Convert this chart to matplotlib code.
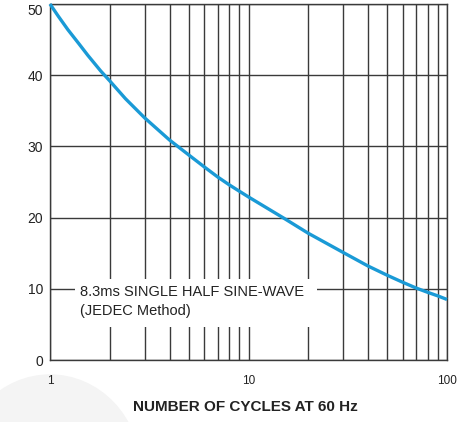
import matplotlib.pyplot as plt
from matplotlib.patches import Ellipse, Rectangle

plt.rcParams['font.family'] = ['Liberation Sans', 'DejaVu Sans']

# Surge current vs number of cycles
cycles = [1, 1.1, 1.23, 1.4, 1.55, 1.8, 2, 2.4, 3, 4, 5, 6, 7, 8, 9, 10,
          15, 20, 30, 40, 50, 60, 70, 80, 90, 100]
current = [50, 48.3, 46.4, 44.4, 42.8, 40.6, 39.2, 36.7, 34.0, 30.9, 28.8,
           27.1, 25.7, 24.6, 23.7, 22.9, 19.95, 17.8, 15.1, 13.2, 11.9,
           10.9, 10.1, 9.5, 9.0, 8.5]

y_ticks = [0, 10, 20, 30, 40, 50]
x_ticks = [1, 10, 100]
x_tick_labels = ['1', '10', '100']

fig = plt.figure(figsize=(4.69, 4.22), dpi=100)

# faint grey watermark blob in the lower-left corner
fig.patches.append(Ellipse((50 / 469, 1 - 470 / 422), 180 / 469, 190 / 422,
                           transform=fig.transFigure, color='#f4f4f4',
                           zorder=-1))

ax = fig.add_axes([50 / 469, 62 / 422, 397 / 469, 356 / 422])
ax.patch.set_alpha(0)

ax.set_xscale('log')
ax.set_xlim(1, 100)
ax.set_ylim(0, 50)

# grid
grid_col = '#3a3a3a'
for d in [1, 10]:
    for m in range(1, 10):
        ax.axvline(d * m, color=grid_col, lw=1.0, zorder=1)
ax.axvline(100, color=grid_col, lw=1.0, zorder=1)
for y in y_ticks:
    ax.axhline(y, color=grid_col, lw=1.0, zorder=1)

for s in ax.spines.values():
    s.set_color(grid_col)
    s.set_linewidth(1.0)

ax.plot(cycles, current, color='#1a9ad6', lw=2.4, zorder=4,
        solid_capstyle='butt', solid_joinstyle='round', clip_on=False)

# white box behind the annotation
ax.add_patch(Rectangle((1.34, 4.6), 22.1 - 1.34, 11.4 - 4.6,
                       facecolor='white', edgecolor='none', zorder=2))
ax.text(1.41, 9.5, '8.3ms SINGLE HALF SINE-WAVE', fontsize=10.5,
        color='#222222', va='center', ha='left', zorder=3)
ax.text(1.41, 6.95, '(JEDEC Method)', fontsize=10.5,
        color='#222222', va='center', ha='left', zorder=3)

ax.set_yticks(y_ticks)
ax.set_yticklabels([str(v) for v in y_ticks], fontsize=10, color='#222222')
ax.get_yticklabels()[-1].set_va('top')
ax.set_xticks(x_ticks)
ax.set_xticklabels(x_tick_labels, fontsize=8.5, color='#222222')
ax.xaxis.set_minor_locator(plt.NullLocator())
ax.tick_params(axis='both', length=0)
ax.tick_params(axis='x', pad=11)
ax.tick_params(axis='y', pad=5)

fig.text(245 / 469, 1 - 407 / 422, 'NUMBER OF CYCLES AT 60 Hz',
         fontsize=11, fontweight='bold', color='#222222',
         ha='center', va='center')

fig.savefig('out.png', dpi=100)
